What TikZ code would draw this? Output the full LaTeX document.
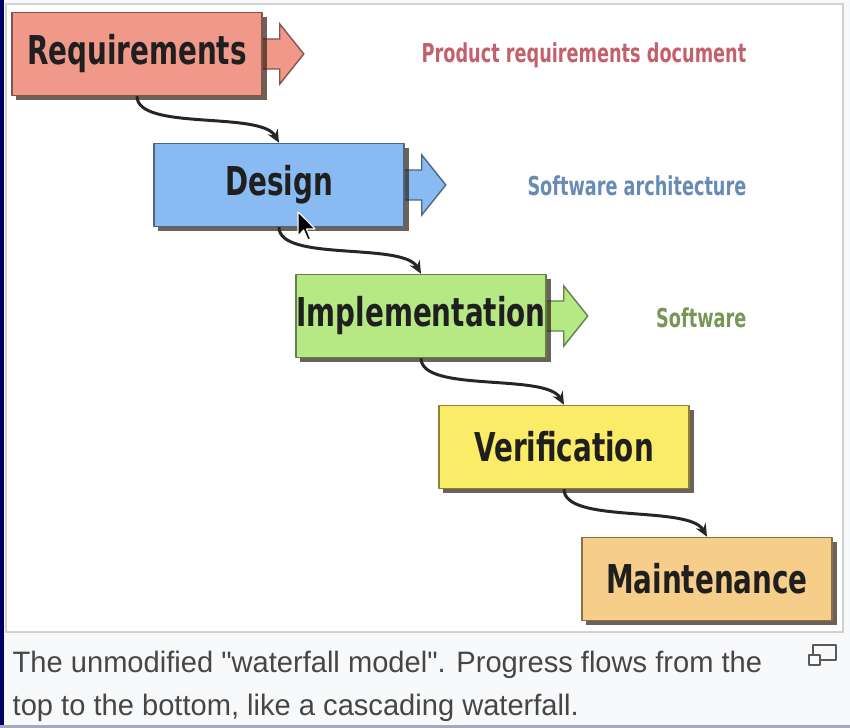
\documentclass[tikz,border=0pt]{standalone}
\usepackage{fontspec}
\setmainfont{Liberation Sans}
\newfontfamily\capfont{Liberation Sans}
\newfontfamily\stagefont{DejaVu Sans}
\usetikzlibrary{positioning,arrows.meta,shadows,backgrounds}
\definecolor{reqcol}{RGB}{240,152,138}
\definecolor{descol}{RGB}{138,186,242}
\definecolor{impcol}{RGB}{182,232,132}
\definecolor{vercol}{RGB}{250,236,102}
\definecolor{maicol}{RGB}{246,206,138}
\definecolor{capgray}{RGB}{248,249,250}
\definecolor{captext}{RGB}{70,70,70}
\definecolor{doccol}{RGB}{196,96,108}
\newcommand{\squeeze}[2]{\scalebox{#1}[1]{#2}}
\begin{document}
\begin{tikzpicture}[x=0.01cm,y=-0.01cm,>={Stealth[length=3.6pt,width=3.2pt]},line join=round,
	stage/.style={draw=#1!55!black,fill=#1,line width=0.4pt,minimum width=2.5cm,minimum height=0.83cm,
		inner sep=0pt,font=\stagefont\bfseries\fontsize{11.3}{12}\selectfont,text=black!88,
		drop shadow={shadow xshift=0.045cm,shadow yshift=-0.045cm,fill=black!75!brown,opacity=0.7}},
	product/.style={anchor=east,inner sep=0pt,font=\stagefont\bfseries\fontsize{7.4}{8}\selectfont},
	flow/.style={->,line width=0.85pt,black!85}]
	\useasboundingbox (0,0) rectangle (850,728);
	% phases
	\node[stage=reqcol] (req) at (137,54) {\squeeze{0.70}{Requirements}};
	\node[stage=descol] (des) at (279,185) {\squeeze{0.70}{Design}};
	\node[stage=impcol] (imp) at (421,316) {\squeeze{0.70}{Implementation}};
	\node[stage=vercol] (ver) at (564,447) {\squeeze{0.70}{Verification}};
	\node[stage=maicol] (mai) at (707,579) {\squeeze{0.70}{Maintenance}};
	\begin{pgfonlayer}{background}
	% frame and caption area
	\fill[capgray] (0,0) rectangle (850,728);
	\fill[white,draw=black!18] (6,4) rectangle (843,632);
	\fill[blue!40!black] (0,0) rectangle (4,728);
	\fill[blue!15!gray!60] (0,725) rectangle (850,728);
	% outputs
	\foreach \n/\c in {req/reqcol,des/descol,imp/impcol}
		\path[fill=\c,draw=\c!55!black,line width=0.4pt] (\n.east) ++(0,-15) -- ++(17,0) -- ++(0,-15)
			-- ++(24,30) -- ++(-24,30) -- ++(0,-15) -- ++(-17,0);
	\end{pgfonlayer}
	\node[product,text=doccol] (doc) at (747,55) {\squeeze{0.68}{Product requirements document}};
	\node[product,text=descol!75!black] (arch) at (747,186) {\squeeze{0.68}{Software architecture}};
	\node[product,text=impcol!65!black] (soft) at (747,318) {\squeeze{0.68}{Software}};
	% cascade
	\draw[flow] (req.south) .. controls +(0,35) and +(-18,-32) .. (des.north);
	\draw[flow] (des.south) .. controls +(0,35) and +(-18,-32) .. (imp.north);
	\draw[flow] (imp.south) .. controls +(0,35) and +(-18,-32) .. (ver.north);
	\draw[flow] (ver.south) .. controls +(0,35) and +(-18,-32) .. (mai.north);
	% mouse pointer
	\draw[fill=black,draw=white,line width=0.3pt] (298,212) -- ++(0,24) -- ++(5.6,-6) -- ++(4.4,10)
		-- ++(2.6,-1) -- ++(-4.2,-10) -- ++(8.6,0) -- cycle;
	% caption
	\node[anchor=north west,inner sep=0pt,align=left,text=captext,
		font=\capfont\fontsize{8.4}{12.4}\selectfont] (cap) at (12,650)
		{\squeeze{0.985}{The unmodified "waterfall model". Progress flows from the}\\
		 \squeeze{0.985}{top to the bottom, like a cascading waterfall.}};
	\draw[black!65,line width=0.45pt] (813,645) rectangle (836,660);
	\draw[black!65,fill=capgray,line width=0.45pt] (809,655) rectangle (820,665);
\end{tikzpicture}
\end{document}
